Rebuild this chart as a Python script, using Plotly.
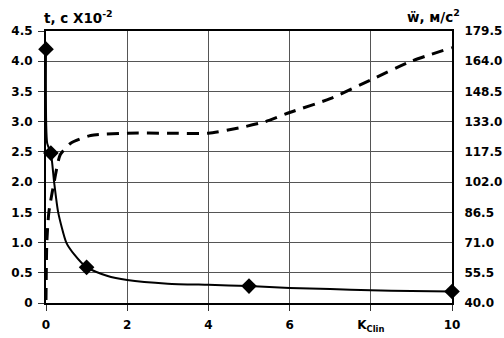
import plotly.graph_objects as go

# t curve (left axis)
t_x = [0, 0.03, 0.12, 0.2, 0.3, 0.5, 0.7, 1.0, 1.5, 2, 3, 4, 5, 6, 7, 8, 9, 10]
t_y = [4.2, 2.64, 2.48, 2.0, 1.5, 1.0, 0.8, 0.59, 0.45, 0.38, 0.32, 0.30, 0.28, 0.25, 0.23, 0.21, 0.20, 0.19]
# markers on t curve
m_x = [0, 0.12, 1, 5, 10]
m_y = [4.2, 2.48, 0.59, 0.28, 0.19]
# w curve (right axis)
w_x = [0, 0.02, 0.07, 0.2, 0.35, 0.6, 1.1, 2, 3, 4, 4.8, 5.4, 6, 7, 8, 9, 10]
w_y = [41.5, 71, 86.5, 102, 116, 121.8, 125.9, 127.1, 127.1, 127.1, 130, 133, 137.7, 144.8, 154.4, 164, 171]

x_ticks = [0, 2, 4, 6, 8, 10]
x_ticktext = ["0", "2", "4", "6", 'K<sub>Clin</sub>', "10"]
y_ticks = [0, 0.5, 1.0, 1.5, 2.0, 2.5, 3.0, 3.5, 4.0, 4.5]
y_ticktext = ["0", "0.5", "1.0", "1.5", "2.0", "2.5", "3.0", "3.5", "4.0", "4.5"]
y2_ticks = [40.0, 55.5, 71.0, 86.5, 102.0, 117.5, 133.0, 148.5, 164.0, 179.5]

FONT = dict(family="DejaVu Sans", size=12, color="black", weight="bold")
TFONT = dict(family="DejaVu Sans", size=13.5, color="black", weight="bold")

L, R, T, B = 46, 52, 31, 35
W, H = 504, 338

fig = go.Figure()
fig.add_trace(go.Scatter(x=w_x, y=w_y, yaxis="y2", mode="lines",
                         line=dict(color="black", width=3, dash="12px,8px", shape="spline", smoothing=0.6),
                         showlegend=False))
fig.add_trace(go.Scatter(x=t_x, y=t_y, mode="lines",
                         line=dict(color="black", width=2, shape="spline", smoothing=0.6),
                         showlegend=False))
fig.add_trace(go.Scatter(x=m_x, y=m_y, mode="markers",
                         marker=dict(symbol="diamond", size=12, color="black"),
                         showlegend=False, cliponaxis=False))

fig.update_layout(
    width=W, height=H,
    margin=dict(l=L, r=R, t=T, b=B, autoexpand=False),
    paper_bgcolor="white", plot_bgcolor="white",
    font=FONT,
    xaxis=dict(range=[0, 10], tickvals=x_ticks, ticktext=x_ticktext,
               showgrid=True, gridcolor="#555", gridwidth=1,
               showline=True, linecolor="black", linewidth=2, mirror=True,
               ticks="outside", ticklen=6, tickcolor="#333", zeroline=False,
               tickfont=FONT, automargin=False, ticklabelstandoff=4),
    yaxis=dict(range=[0, 4.5], tickvals=y_ticks, ticktext=y_ticktext,
               showgrid=True, gridcolor="#555", gridwidth=1,
               showline=True, linecolor="black", linewidth=2,
               ticks="outside", ticklen=6, tickcolor="#333", zeroline=False,
               tickfont=FONT, automargin=False, ticklabelstandoff=3),
    yaxis2=dict(range=[40, 179.5], tickvals=y2_ticks, tickformat=".1f",
                overlaying="y", side="right", showgrid=False,
                showline=True, linecolor="black", linewidth=2,
                ticks="", zeroline=False, tickfont=FONT, automargin=False,
                ticklabelstandoff=8),
)

pw = W - L - R
ph = H - T - B
def px2paper(px, py):
    return (px - L) / pw, (H - B - py) / ph

ax1, ay1 = px2paper(42, 17)
ax2, ay2 = px2paper(405, 16)
fig.add_annotation(text="t, с X10<sup>-2</sup>", x=ax1, y=ay1, xref="paper", yref="paper",
                   showarrow=False, font=TFONT, xanchor="left", yanchor="middle")
fig.add_annotation(text="ẅ, м/с<sup>2</sup>", x=ax2, y=ay2, xref="paper", yref="paper",
                   showarrow=False, font=TFONT, xanchor="left", yanchor="middle")

fig.write_html("out.html", config={"displayModeBar": False},
               post_script="document.body.style.margin='0';")
